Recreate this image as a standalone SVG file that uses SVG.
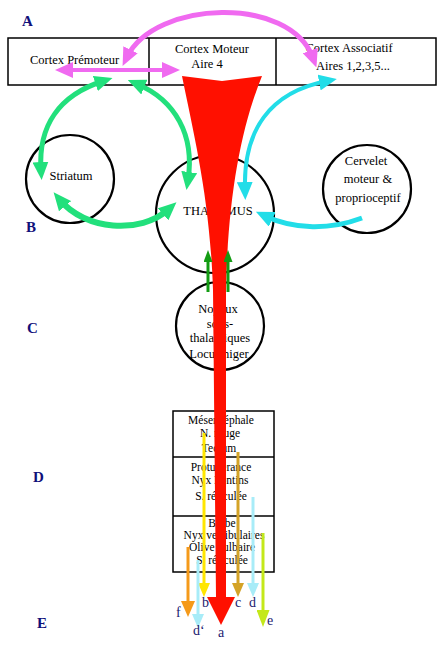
<svg xmlns="http://www.w3.org/2000/svg" width="444" height="654" viewBox="0 0 444 654">
<style>
text{font-family:"Liberation Serif","Times New Roman",serif;font-size:12.5px;fill:#000}
.c{text-anchor:middle}
.s{font-size:11.5px}
.L{font-weight:bold;font-size:15px;fill:#10107a}
.lb{font-size:14px;fill:#1a1a70}
.box{fill:none;stroke:#000;stroke-width:1.5}
.circ{fill:#fff;stroke:#000;stroke-width:2.2}
.arc{fill:none}
</style>
<defs>
<marker id="mMag" markerUnits="userSpaceOnUse" markerWidth="18" markerHeight="16" viewBox="0 0 18 16" refX="8" refY="8" orient="auto-start-reverse"><path d="M0,0L18,8L0,16z" fill="#f06af0"/></marker>
<marker id="mGrn" markerUnits="userSpaceOnUse" markerWidth="18" markerHeight="16" viewBox="0 0 18 16" refX="8" refY="8" orient="auto-start-reverse"><path d="M0,0L18,8L0,16z" fill="#22e07c"/></marker>
<marker id="mCyn" markerUnits="userSpaceOnUse" markerWidth="18" markerHeight="16" viewBox="0 0 18 16" refX="8" refY="8" orient="auto-start-reverse"><path d="M0,0L18,8L0,16z" fill="#22dde8"/></marker>
<marker id="mDg" markerUnits="userSpaceOnUse" markerWidth="12" markerHeight="9" viewBox="0 0 12 9" refX="4" refY="4.5" orient="auto"><path d="M0,0L12,4.5L0,9z" fill="#139c13"/></marker>
<marker id="mYel" markerUnits="userSpaceOnUse" markerWidth="14" markerHeight="12" viewBox="0 0 14 12" refX="4" refY="6" orient="auto"><path d="M0,0L14,6L0,12z" fill="#ffe600"/></marker>
<marker id="mGold" markerUnits="userSpaceOnUse" markerWidth="14" markerHeight="12" viewBox="0 0 14 12" refX="4" refY="6" orient="auto"><path d="M0,0L14,6L0,12z" fill="#d4a327"/></marker>
<marker id="mLb" markerUnits="userSpaceOnUse" markerWidth="14" markerHeight="12" viewBox="0 0 14 12" refX="4" refY="6" orient="auto"><path d="M0,0L14,6L0,12z" fill="#a8ecf8"/></marker>
<marker id="mYg" markerUnits="userSpaceOnUse" markerWidth="17" markerHeight="13" viewBox="0 0 17 13" refX="7" refY="6.5" orient="auto"><path d="M0,0L17,6.5L0,13z" fill="#c4e81a"/></marker>
<marker id="mOr" markerUnits="userSpaceOnUse" markerWidth="16" markerHeight="14" viewBox="0 0 16 14" refX="6" refY="7" orient="auto"><path d="M0,0L16,7L0,14z" fill="#f59a1a"/></marker>
</defs>

<g id="labels-letters">
<text class="L" x="22" y="26">A</text>
<text class="L" x="26" y="232">B</text>
<text class="L" x="27" y="333">C</text>
<text class="L" x="33" y="482">D</text>
<text class="L" x="37" y="628">E</text>
</g>

<g id="cortex">
<rect class="box" x="8" y="38" width="428" height="47"/>
<line class="box" x1="149" y1="38" x2="149" y2="85"/>
<line class="box" x1="276" y1="38" x2="276" y2="85"/>
<text x="30" y="64">Cortex Prémoteur</text>
<text class="c" x="212" y="53">Cortex Moteur</text>
<text class="c" x="207" y="68">Aire 4</text>
<text class="c" x="349" y="52">Cortex Associatif</text>
<text class="c" x="353" y="70">Aires 1,2,3,5...</text>
</g>

<g id="striatum"><circle class="circ" cx="70" cy="179" r="44"/><text class="c" x="71" y="180">Striatum</text></g>
<g id="thalamus"><circle class="circ" cx="215" cy="214" r="59"/><text class="c" x="218" y="215">THALAMUS</text></g>
<g id="cervelet"><circle class="circ" cx="367" cy="189" r="44"/>
<text class="c" x="366" y="165">Cervelet</text><text class="c" x="368" y="183">moteur  &amp;</text><text class="c" x="368" y="202">proprioceptif</text></g>
<g id="noyaux"><circle class="circ" cx="220" cy="326" r="44"/>
<text class="c" x="218" y="313">Noyaux</text><text class="c" x="220" y="328">sous-</text><text class="c" x="220" y="342">thalamiques</text><text class="c" x="219" y="358">Locus niger</text></g>

<g id="tronc">
<rect class="box" x="173" y="411" width="101" height="161"/>
<line class="box" x1="173" y1="457" x2="274" y2="457"/>
<line class="box" x1="173" y1="516" x2="274" y2="516"/>
<text class="c s" x="221" y="424">Mésencéphale</text>
<text class="c s" x="220" y="437">N. rouge</text>
<text class="c s" x="219" y="452">Tectum</text>
<text class="c s" x="221" y="471">Protubérance</text>
<text class="c s" x="220" y="484">Nyx Pontins</text>
<text class="c s" x="221" y="500">S. réticulée</text>
<text class="c s" x="222" y="527">Bulbe</text>
<text class="c s" x="224" y="539">Nyx vestibulaires</text>
<text class="c s" x="222" y="551">Olive bulbaire</text>
<text class="c s" x="222" y="564">S. réticulée</text>
</g>

<g id="connectors">
<path id="voie-pyramidale" d="M182,76 C195,140 210,200 213,290 L216,597 L207,597 L221,625 L235,597 L226,597 L226,290 C228,200 240,130 262,76 L222,81 Z" fill="#ff1000"/>
<path class="arc" d="M127,57 C155,0 290,-5 313,58" stroke="#f06af0" stroke-width="5" marker-start="url(#mMag)" marker-end="url(#mMag)"/>
<path class="arc" d="M65,70 L170,70" stroke="#f06af0" stroke-width="4" marker-start="url(#mMag)" marker-end="url(#mMag)"/>
<path class="arc" d="M103,81 C60,95 38,125 41,170" stroke="#22e07c" stroke-width="5" marker-start="url(#mGrn)" marker-end="url(#mGrn)"/>
<path class="arc" d="M137,84 C175,100 195,135 188,180" stroke="#22e07c" stroke-width="5" marker-start="url(#mGrn)" marker-end="url(#mGrn)"/>
<path class="arc" d="M60,200 C85,230 140,235 169,209" stroke="#22e07c" stroke-width="6" marker-start="url(#mGrn)" marker-end="url(#mGrn)"/>
<path class="arc" d="M245,190 C243,130 270,92 327,81" stroke="#22dde8" stroke-width="4" marker-start="url(#mCyn)" marker-end="url(#mCyn)"/>
<path class="arc" d="M362,218 C330,230 295,230 265,216" stroke="#22dde8" stroke-width="5" marker-end="url(#mCyn)"/>
<line x1="208" y1="292" x2="208" y2="258" stroke="#139c13" stroke-width="3" marker-end="url(#mDg)"/>
<line x1="228" y1="292" x2="228" y2="258" stroke="#139c13" stroke-width="3" marker-end="url(#mDg)"/>
<line x1="204" y1="433" x2="204" y2="587" stroke="#ffe600" stroke-width="3" marker-end="url(#mYel)"/>
<line x1="238" y1="452" x2="238" y2="587" stroke="#d4a327" stroke-width="3" marker-end="url(#mGold)"/>
<line x1="253" y1="497" x2="253" y2="587" stroke="#a8ecf8" stroke-width="3" marker-end="url(#mLb)"/>
<line x1="263" y1="533" x2="263" y2="617" stroke="#c4e81a" stroke-width="3" marker-end="url(#mYg)"/>
<line x1="188" y1="547" x2="188" y2="607" stroke="#f59a1a" stroke-width="3" marker-end="url(#mOr)"/>
<line x1="198" y1="560" x2="198" y2="618" stroke="#a8ecf8" stroke-width="3" marker-end="url(#mLb)"/>
</g>

<g id="labels-voies">
<text class="lb" x="176" y="617">f</text>
<text class="lb" x="202" y="607">b</text>
<text class="lb" x="235" y="607">c</text>
<text class="lb" x="249" y="607">d</text>
<text class="lb" x="267" y="625">e</text>
<text class="lb" x="193" y="635">d‘</text>
<text class="lb" x="218" y="637">a</text>
</g>
</svg>
